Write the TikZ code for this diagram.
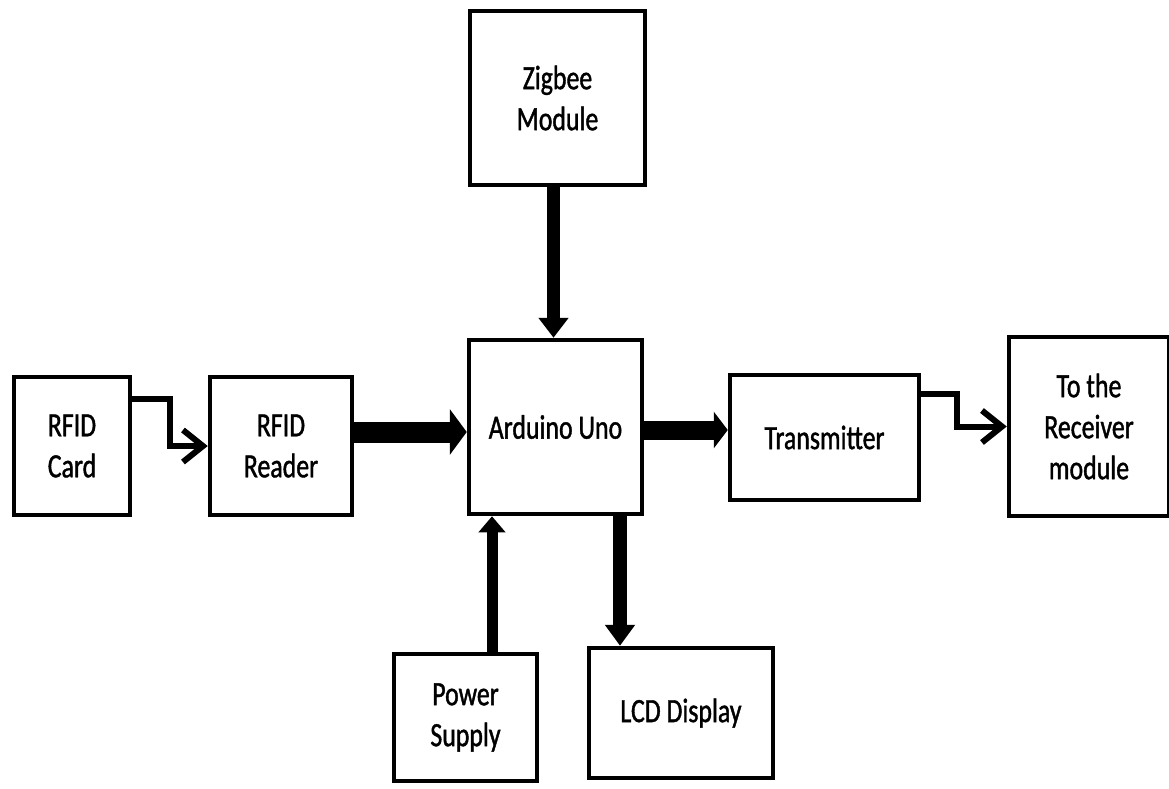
\documentclass[tikz,border=0pt]{standalone}
\usepackage{fontspec}
\setmainfont{Carlito}[FakeStretch=0.76,FakeBold=1.2]
\usetikzlibrary{arrows.meta}
\begin{document}
\begin{tikzpicture}[x=1pt,y=-1pt,
  blk/.style={draw=black, line width=4.5pt, fill=white, inner sep=0pt, align=center,
    font=\fontsize{34}{41}\selectfont},
  thinarrow/.style={line width=6pt, line join=miter, -{Straight Barb[length=20pt,width=32pt,line width=6pt]}}
]
\useasboundingbox (0,0) rectangle (1169,788);
\fill[white] (0,0) rectangle (1169,788);

\node[blk, minimum width=175pt, minimum height=174pt] (zig) at (557.5,98) {Zigbee\\Module};
\node[blk, minimum width=173pt, minimum height=174pt] (ard) at (555.5,427) {Arduino Uno};
\node[blk, minimum width=116pt, minimum height=138pt] (card) at (72,446) {RFID\\Card};
\node[blk, minimum width=142pt, minimum height=138pt] (reader) at (281,446) {RFID\\Reader};
\node[blk, minimum width=189pt, minimum height=125pt] (tx) at (824.5,437.5) {Transmitter};
\node[blk, minimum width=160pt, minimum height=179pt] (rx) at (1089,426.5) {To the\\Receiver\\module};
\node[blk, minimum width=143pt, minimum height=127pt] (pwr) at (465.5,717.5) {Power\\Supply};
\node[blk, minimum width=184pt, minimum height=130pt] (lcd) at (681,713) {LCD Display};

% thin elbow connectors
\draw[thinarrow] ([yshift=47pt]card.east) -- ([yshift=47pt,xshift=38pt]card.east) |- (reader.west);
\draw[thinarrow] ([yshift=43.5pt]tx.east) -- ([yshift=43.5pt,xshift=36pt]tx.east) |- (rx.west);

% thick connectors
\coordinate (rdOut) at ([yshift=14pt]reader.east);
\coordinate (ardOut) at ([yshift=-3pt]ard.east);
\coordinate (zigOut) at ([xshift=-4pt]zig.south);
\coordinate (pwrOut) at ([xshift=26.5pt]pwr.north);
\coordinate (lcdIn) at ([xshift=-61pt]lcd.north);
\draw[line width=21pt, -{Triangle[length=17pt,width=45pt]}] (rdOut) -- (rdOut -| ard.west);
\draw[line width=19pt, -{Triangle[length=14pt,width=36pt]}] (ardOut) -- (ardOut -| tx.west);
\draw[line width=13pt, -{Triangle[length=20pt,width=29pt]}] (zigOut) -- (zigOut |- ard.north);
\draw[line width=11pt, -{Triangle[length=16pt,width=26pt]}] (pwrOut) -- (pwrOut |- ard.south);
\draw[line width=14pt, -{Triangle[length=21pt,width=29pt]}] (lcdIn |- ard.south) -- (lcdIn);
\end{tikzpicture}
\end{document}
